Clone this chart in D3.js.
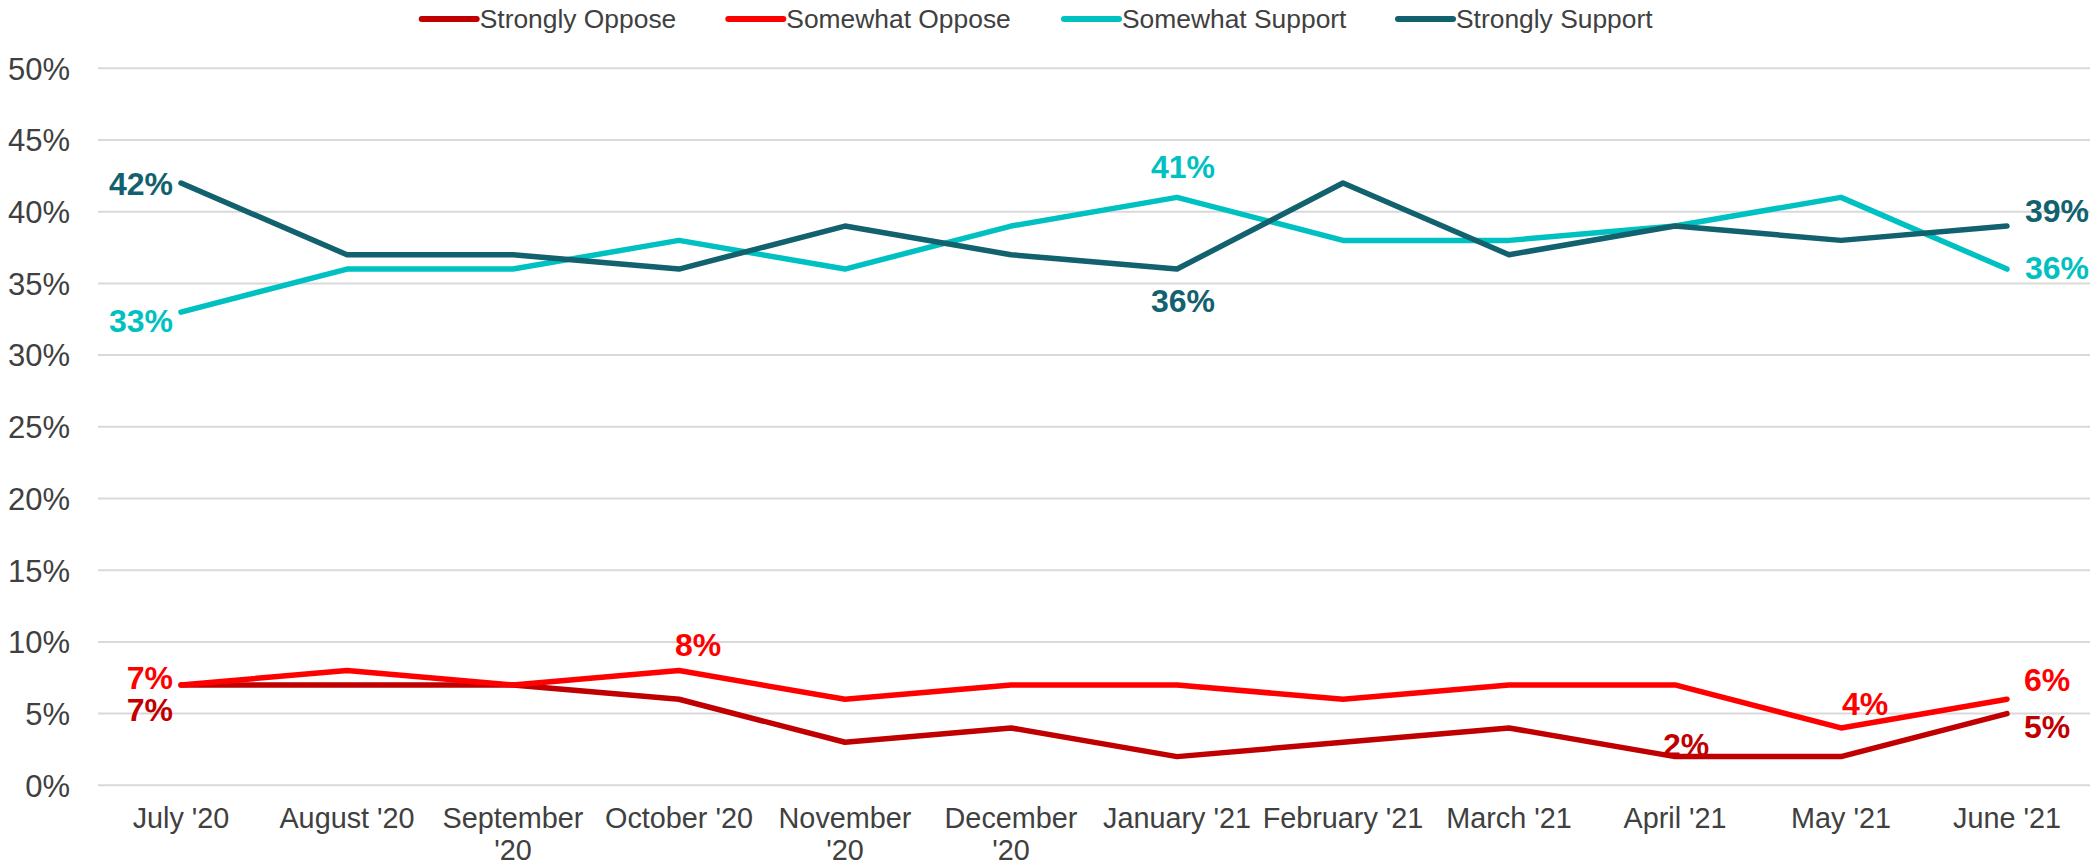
<!DOCTYPE html>
<html>
<head>
<meta charset="utf-8">
<script src="https://cdn.jsdelivr.net/npm/d3@7"></script>
<style>
  html, body { margin: 0; padding: 0; background: #fff; }
  svg { display: block; font-family: "Liberation Sans", Arial, sans-serif; }
</style>
</head>
<body>
<svg id="chart" width="2099" height="865"></svg>
<script>
// ---- Data ----
const categories = ["July '20", "August '20", "September '20", "October '20", "November '20", "December '20",
  "January '21", "February '21", "March '21", "April '21", "May '21", "June '21"];
const seriesNames = ["Strongly Oppose", "Somewhat Oppose", "Somewhat Support", "Strongly Support"];
const stronglyOppose  = [7, 7, 7, 6, 3, 4, 2, 3, 4, 2, 2, 5];
const somewhatOppose  = [7, 8, 7, 8, 6, 7, 7, 6, 7, 7, 4, 6];
const somewhatSupport = [33, 36, 36, 38, 36, 39, 41, 38, 38, 39, 41, 36];
const stronglySupport = [42, 37, 37, 36, 39, 37, 36, 42, 37, 39, 38, 39];
const yTicks = [0, 5, 10, 15, 20, 25, 30, 35, 40, 45, 50];
// data labels: [series index, category index, placement]
const dataLabels = [
  [3, 0, "left"], [2, 0, "leftBelow"],
  [2, 6, "above"], [3, 6, "below"],
  [3, 11, "rightUp"], [2, 11, "right"],
  [1, 0, "leftUp"], [0, 0, "leftDown"],
  [1, 3, "aboveR"], [0, 9, "onR"], [1, 10, "aboveR2"],
  [1, 11, "rightUp2"], [0, 11, "rightDown"]
];

const seriesValues = [stronglyOppose, somewhatOppose, somewhatSupport, stronglySupport];
const colors = ["#C00000", "#FF0000", "#00C1C1", "#12616E"];

// ---- Layout ----
const svg = d3.select("#chart");
const plotLeft = 98, plotRight = 2090, plotTop = 68.3, plotBottom = 785.3;

const x = d3.scaleBand().domain(categories).range([plotLeft, plotRight]).padding(0);
const xc = c => x(c) + x.bandwidth() / 2;
const y = d3.scaleLinear().domain([0, 50]).range([plotBottom, plotTop]);

// Gridlines
svg.append("g").selectAll("line").data(yTicks).join("line")
  .attr("x1", plotLeft).attr("x2", plotRight)
  .attr("y1", d => y(d)).attr("y2", d => y(d))
  .attr("stroke", "#D9D9D9").attr("stroke-width", 2);

// Y axis
const yAxis = d3.axisLeft(y).tickValues(yTicks).tickFormat(d => d + "%").tickSize(0).tickPadding(0);
const gy = svg.append("g").attr("transform", `translate(70,0)`).call(yAxis);
gy.select(".domain").remove();
gy.selectAll("text").attr("fill", "#404040").style("font-size", "31px")
  .attr("font-family", "Liberation Sans, Arial, sans-serif").attr("dy", "0.35em");

// X axis
const xAxis = d3.axisBottom(x).tickSize(0).tickPadding(0);
const gx = svg.append("g").attr("transform", `translate(0,${plotBottom})`).call(xAxis);
gx.select(".domain").remove();
gx.selectAll("text").attr("fill", "#404040").style("font-size", "28.8px")
  .attr("font-family", "Liberation Sans, Arial, sans-serif")
  .attr("y", 43).attr("dy", 0)
  .each(function(d) {
    const t = d3.select(this);
    const words = d.split(" ");
    t.text(null);
    let line = [], lineNo = 0;
    let tspan = t.append("tspan").attr("x", 0).attr("y", 43);
    words.forEach(w => {
      line.push(w);
      tspan.text(line.join(" "));
      if (tspan.node().getComputedTextLength() > x.bandwidth() - 4 && line.length > 1) {
        line.pop();
        tspan.text(line.join(" "));
        line = [w];
        lineNo++;
        tspan = t.append("tspan").attr("x", 0).attr("y", 43 + lineNo * 32).text(w);
      }
    });
  });

// Lines
const lineGen = d3.line().x((d, i) => xc(categories[i])).y(d => y(d));
svg.append("g").selectAll("path").data(seriesValues).join("path")
  .attr("d", d => lineGen(d))
  .attr("fill", "none")
  .attr("stroke", (d, i) => colors[i])
  .attr("stroke-width", 5.5)
  .attr("stroke-linejoin", "round")
  .attr("stroke-linecap", "round");

// Data labels
const place = {
  left:      { dx: -8,  dy: 12,  anchor: "end" },
  leftBelow: { dx: -8,  dy: 20,  anchor: "end" },
  leftUp:    { dx: -8,  dy: 4,   anchor: "end" },
  leftDown:  { dx: -8,  dy: 36,  anchor: "end" },
  above:     { dx: 6,   dy: -19, anchor: "middle" },
  below:     { dx: 6,   dy: 43,  anchor: "middle" },
  rightUp:   { dx: 18,  dy: -4,  anchor: "start" },
  right:     { dx: 18,  dy: 10,  anchor: "start" },
  aboveR:    { dx: 19,  dy: -15, anchor: "middle" },
  onR:       { dx: 11,  dy: -1,  anchor: "middle" },
  aboveR2:   { dx: 24,  dy: -13, anchor: "middle" },
  rightUp2:  { dx: 17,  dy: -8,  anchor: "start" },
  rightDown: { dx: 17,  dy: 24,  anchor: "start" }
};
svg.append("g").selectAll("text").data(dataLabels).join("text")
  .attr("x", d => xc(categories[d[1]]) + place[d[2]].dx)
  .attr("y", d => y(seriesValues[d[0]][d[1]]) + place[d[2]].dy)
  .attr("text-anchor", d => place[d[2]].anchor)
  .attr("fill", d => colors[d[0]])
  .style("font-size", "32px").style("font-weight", "bold")
  .text(d => seriesValues[d[0]][d[1]] + "%");

// Legend
const legendX = [421.7, 728.3, 1064, 1398];
const lg = svg.append("g").selectAll("g").data(seriesNames).join("g")
  .attr("transform", (d, i) => `translate(${legendX[i]},19)`);
lg.append("line").attr("x1", 0).attr("x2", 55).attr("y1", 0).attr("y2", 0)
  .attr("stroke", (d, i) => colors[i]).attr("stroke-width", 6).attr("stroke-linecap", "round");
lg.append("text").attr("x", 58).attr("y", 9).attr("fill", "#404040")
  .style("font-size", "26.4px").text(d => d);
</script>
</body>
</html>
